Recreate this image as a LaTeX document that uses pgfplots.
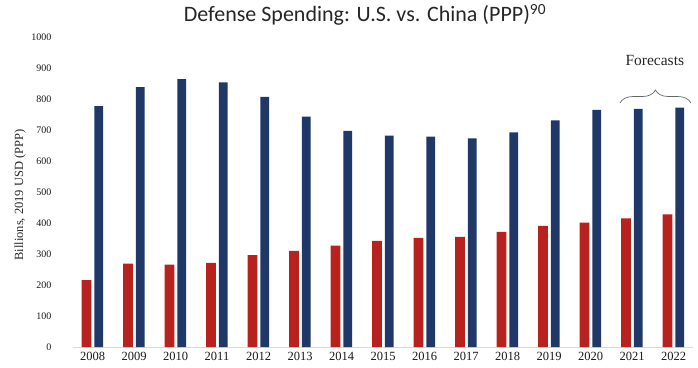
\documentclass[border=0pt]{standalone}
\usepackage{pgfplots}
\pgfplotsset{compat=1.18}
\usepackage{fontspec}
\setmainfont{Liberation Serif}
\newfontfamily\titlefont{Carlito}
\usetikzlibrary{decorations.pathreplacing}
\definecolor{usred}{RGB}{184,34,30}
\definecolor{usblue}{RGB}{31,56,104}
\begin{document}
\begin{tikzpicture}[x=1pt,y=1pt]
\useasboundingbox (0,0) rectangle (698,367);
\begin{axis}[
  at={(73pt,20pt)}, anchor=south west,
  scale only axis, width=620pt, height=310pt,
  xmin=-0.47, xmax=14.47, ymin=0, ymax=1000,
  axis x line*=bottom, axis y line*=left,
  x axis line style={draw=black!15, line width=0.8pt},
  y axis line style={draw=none},
  xtick={0,...,14},
  xticklabels={2008,2009,2010,2011,2012,2013,2014,2015,2016,2017,2018,2019,2020,2021,2022},
  ytick={0,100,...,1000},
  tick style={draw=none},
  /pgf/number format/assume math mode=true,
  /pgf/number format/1000 sep={},
  ticklabel style={text=black!90},
  yticklabel style={font=\fontsize{10}{12}\selectfont, xshift=-18pt},
  xticklabel style={font=\fontsize{12.5}{14}\selectfont, yshift=-4pt, inner sep=1pt},
  clip=false,
]
\addplot[ybar, bar width=0.23, bar shift=-0.145, fill=usred, draw=none] coordinates {
(0,216) (1,269) (2,266) (3,271) (4,296) (5,310) (6,327) (7,342) (8,352) (9,355) (10,371) (11,391) (12,401) (13,415) (14,428)};
\addplot[ybar, bar width=0.21, bar shift=0.15, fill=usblue, draw=none] coordinates {
(0,777) (1,838) (2,864) (3,854) (4,807) (5,743) (6,697) (7,682) (8,679) (9,673) (10,692) (11,731) (12,765) (13,768) (14,772)};
\draw[black!60, line width=0.7pt, decorate, decoration={brace, amplitude=13pt}] (axis cs:12.71,787) -- (axis cs:14.42,787);
\node[font=\fontsize{15.5}{18}\selectfont, text=black!85] at (axis cs:13.55,925) {Forecasts};
\end{axis}
\node[anchor=base, font=\titlefont\fontsize{22}{26}\selectfont, text=black!85] at (365,345) {Defense Spending: U.S. vs. China (PPP)\textsuperscript{90}};
\node[rotate=90, font=\fontsize{12.5}{14}\selectfont, text=black!85] at (20,172) {Billions, 2019 USD (PPP)};
\end{tikzpicture}
\end{document}
